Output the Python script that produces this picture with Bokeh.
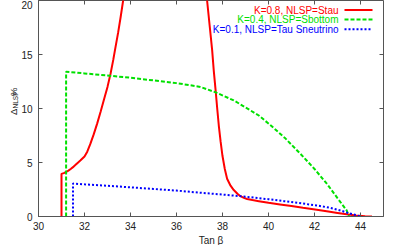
import math
from bokeh.plotting import figure
from bokeh.models import Label, Arrow, Range1d, FixedTicker
from bokeh.embed import file_html
from bokeh.resources import INLINE

# ---- data ----
stau_x = [31.0, 31.0, 31.1, 31.2, 31.3, 31.4, 31.5, 31.6, 31.7, 31.83, 32.0, 32.12, 32.25, 32.4, 32.55, 32.7, 32.85,
          33.0, 33.13, 33.25, 33.35, 33.46, 33.57, 33.68, 33.78,
          float("nan"),
          37.25, 37.33, 37.45, 37.55, 37.62, 37.7, 37.77, 37.84, 37.92, 38.0, 38.1, 38.2, 38.35, 38.49, 38.65,
          38.78, 38.93, 39.07, 39.3, 39.58, 40.0, 40.5, 41.0, 41.5, 42.1, 42.6, 43.0, 43.4, 43.8, 44.2, 44.5]
stau_y = [0.0, 3.95, 4.02, 4.12, 4.25, 4.4, 4.57, 4.76, 4.96, 5.2, 5.55, 6.0, 6.7, 7.6, 8.6, 9.7, 10.85,
          12.0, 13.2, 14.5, 15.7, 17.0, 18.45, 20.0, 21.5,
          float("nan"),
          21.5, 20.0, 17.5, 15.4, 13.5, 11.7, 10.0, 8.4, 6.9, 5.6, 4.4, 3.5, 2.85, 2.45, 2.1,
          1.88, 1.72, 1.62, 1.52, 1.42, 1.27, 1.12, 0.97, 0.8, 0.62, 0.46, 0.33, 0.2, 0.1, 0.03, 0.0]

sbot_x = [31.2, 31.2, 32.0, 33.0, 34.0, 35.0, 36.0, 37.04, 37.7, 38.49, 39.0, 39.58, 40.09, 40.7, 41.39, 42.0,
          42.55, 43.0, 43.4, 43.5]
sbot_y = [0.0, 13.4, 13.25, 13.05, 12.85, 12.6, 12.35, 12.0, 11.5, 10.75, 10.1, 9.35, 8.45, 7.3, 5.8, 4.4,
          3.0, 1.7, 0.56, 0.0]

snu_x = [31.5, 31.5, 32.0, 33.0, 34.0, 35.0, 36.0, 37.04, 38.0, 38.93, 40.0, 40.67, 41.5, 42.1, 42.7, 43.13,
         43.5, 43.85, 44.0]
snu_y = [0.0, 3.05, 2.98, 2.85, 2.7, 2.55, 2.4, 2.2, 2.03, 1.85, 1.6, 1.42, 1.2, 1.02, 0.8, 0.56,
         0.3, 0.1, 0.0]

x_ticks = [30, 32, 34, 36, 38, 40, 42, 44]
y_ticks = [0, 5, 10, 15, 20]
x_min, x_max = 30, 45
y_min, y_max = 0, 20

legend_labels = ["K=0.8, NLSP=Stau", "K=0.4, NLSP=Sbottom", "K=0.1, NLSP=Tau Sneutrino"]
colors = ["#ff0000", "#00e000", "#0000ff"]
dashes = ["solid", "4 2", "2 2"]

FONT = "Liberation Sans"
AX = "#555555"
TXT = "#222222"

p = figure(frame_width=345, frame_height=216, output_backend="svg", toolbar_location=None,
           x_range=Range1d(x_min, x_max), y_range=Range1d(y_min, y_max),
           min_border_left=38, min_border_right=17, min_border_top=0, min_border_bottom=29,
           background_fill_color="white", border_fill_color="white")
p.styles = {"position": "absolute", "top": "0px", "left": "0px"}
p.grid.visible = False
p.outline_line_color = AX
p.outline_line_width = 1

for ax in (p.xaxis[0], p.yaxis[0]):
    ax.axis_line_color = AX
    ax.major_tick_line_color = AX
    ax.major_tick_in = 4
    ax.major_tick_out = 0
    ax.minor_tick_line_color = None
    ax.major_label_text_font = FONT
    ax.major_label_text_font_size = "10px"
    ax.major_label_text_color = TXT
p.xaxis[0].ticker = FixedTicker(ticks=x_ticks)
p.yaxis[0].ticker = FixedTicker(ticks=y_ticks)
p.xaxis[0].major_label_standoff = 5
p.yaxis[0].major_label_standoff = 6
p.xaxis[0].axis_label = "Tan β"
p.xaxis[0].axis_label_text_font = FONT
p.xaxis[0].axis_label_text_font_size = "10px"
p.xaxis[0].axis_label_text_font_style = "normal"
p.xaxis[0].axis_label_text_color = TXT
p.xaxis[0].axis_label_standoff = 2

# mirrored inward ticks on top and right frame edges (dash markers, half clipped by the frame)
p.scatter(x_ticks, [y_max] * len(x_ticks), marker="dash", angle=math.pi / 2, size=8,
          line_color=AX, line_width=1)
p.scatter([x_max] * len(y_ticks), y_ticks, marker="dash", size=8, line_color=AX, line_width=1)

p.line(stau_x, stau_y, line_color=colors[0], line_width=2)
p.line(sbot_x, sbot_y, line_color=colors[1], line_width=2, line_dash=dashes[1])
p.line(snu_x, snu_y, line_color=colors[2], line_width=2, line_dash=dashes[2])

# screen units are relative to the frame's bottom-left corner (frame: left 38, bottom 216)
FL, FB = 38, 216

# legend (label right-aligned, sample on the right)
rows = [9.5, 19.0, 28.8]
for lab, col, dash, ry in zip(legend_labels, colors, dashes, rows):
    p.add_layout(Label(x=338 - FL, y=FB - ry, x_units="screen", y_units="screen", text=lab,
                       text_align="right", text_baseline="middle", text_color=col,
                       text_font=FONT, text_font_size="10px"))
    p.add_layout(Arrow(x_start=344 - FL, y_start=FB - ry, x_end=372 - FL, y_end=FB - ry,
                       start_units="screen", end_units="screen", end=None,
                       line_color=col, line_width=2, line_dash=dash))

# y axis label: Delta_NLSP %  (canvas units, placed in the bottom panel so the frame does not move)
ylab = [("Δ", 9.5, 13, 114.5), ("NLSP", 6.5, 15, 108), (" %", 9.5, 13, 95.5)]
for t, fs, bx, by in ylab:
    p.add_layout(Label(x=bx, y=by, x_units="canvas", y_units="canvas", text=t,
                       angle=math.pi / 2, text_align="left", text_baseline="alphabetic",
                       text_color=TXT, text_font=FONT, text_font_size=f"{fs}px"), "below")

open("out.html", "w").write(file_html(p, INLINE))
